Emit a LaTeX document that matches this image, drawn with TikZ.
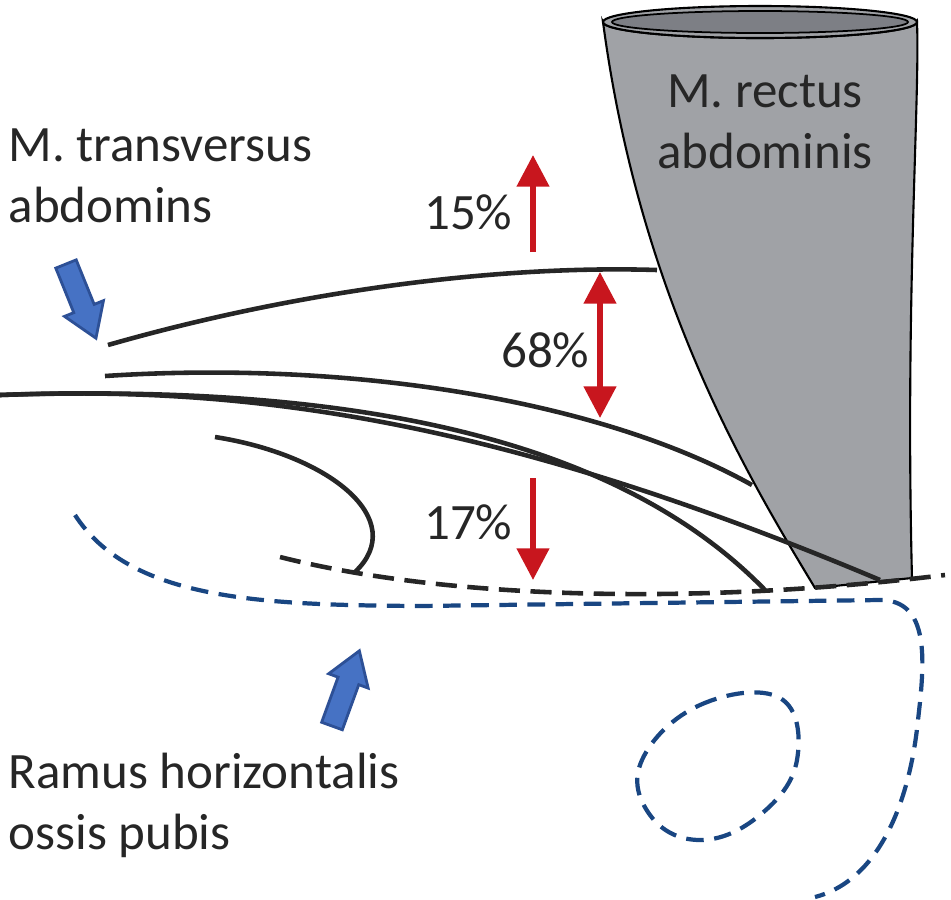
\documentclass[tikz,border=0pt]{standalone}
\usepackage{fontspec}
\setmainfont{Carlito}
\usetikzlibrary{arrows.meta}
\definecolor{rectgray}{RGB}{160,162,166}
\definecolor{rectdark}{RGB}{125,127,133}
\definecolor{pctred}{RGB}{200,22,30}
\definecolor{blockblue}{RGB}{70,114,196}
\definecolor{blockedge}{RGB}{45,80,150}
\definecolor{bonedash}{RGB}{25,70,130}
\tikzset{
  lbl/.style={align=left, font=\fontsize{14.5}{17.5}\selectfont, text=black!85, inner sep=0pt},
  pct/.style={font=\fontsize{14.5}{17}\selectfont, text=black!85, inner sep=0pt},
  fibre/.style={line width=1.3pt, black!85},
  redarrow/.style={line width=1.6pt, pctred, -{Triangle[length=9pt,width=9pt]}},
  bluearrow/.style={draw=blockedge, fill=blockblue, line width=0.8pt, line join=miter},
  bonelin/.style={dashed, dash pattern=on 5pt off 3pt, line width=1.2pt, bonedash}
}
% block arrow pointing along +x, tail at origin
\newcommand{\blockarrow}{(0,-11) -- (48,-11) -- (48,-21) -- (80,0) -- (48,21) -- (48,11) -- (0,11) -- cycle}
\begin{document}
\begin{tikzpicture}[x=0.01cm,y=-0.01cm]
\useasboundingbox (0,0) rectangle (951,899);
% M. rectus abdominis
\draw[fill=rectgray, line width=0.6pt] (603,22) .. controls (640,300) and (750,480) .. (815,588)
  -- (912,578) .. controls (905,300) and (920,100) .. (917,22) arc[start angle=0,end angle=180,x radius=157,y radius=16] -- cycle;
\draw[fill=rectgray, line width=0.6pt] (760,22) ellipse[x radius=157,y radius=16];
\draw[fill=rectdark, line width=0.5pt] (760,22) ellipse[x radius=148,y radius=11];
\node[lbl, align=center] (rectus) at (765,122) {M. rectus\\abdominis};
% fibres
\draw[fibre] (108,345) .. controls (300,290) and (500,265) .. (657,270);
\draw[fibre] (105,376) .. controls (350,360) and (600,400) .. (752,485);
\draw[fibre] (0,395) .. controls (250,385) and (500,420) .. (880,580);
\draw[fibre] (0,395) .. controls (300,385) and (600,420) .. (765,590);
\draw[fibre] (215,437) .. controls (330,455) and (410,520) .. (355,572);
\draw[fibre, dashed, dash pattern=on 6pt off 3pt] (280,557) .. controls (450,600) and (700,605) .. (945,575);
% ramus
\draw[bonelin] (75,515) .. controls (130,600) and (260,605) .. (420,606) -- (880,600)
  .. controls (930,600) and (925,660) .. (918,720) .. controls (910,800) and (880,880) .. (815,897);
\draw[bonelin] plot[smooth cycle, tension=0.7] coordinates {(642,760) (700,705) (780,698) (797,760) (760,815) (700,840) (650,815)};
% labels
\node[lbl, anchor=north west] (transv) at (8,128) {M. transversus\\abdomins};
\node[lbl, anchor=north west] (ramus) at (8,752) {Ramus horizontalis\\ossis pubis};
\draw[bluearrow, shift={(66,264)}, rotate=-68] \blockarrow;
\draw[bluearrow, shift={(332,726)}, rotate=70] \blockarrow;
% percentages
\coordinate (p15a) at (533,252); \coordinate (p15b) at (533,155);
\draw[redarrow] (p15a) -- (p15b);
\node[pct, anchor=east] (p15) at (513,212) {15\%};
\coordinate (p68a) at (600,272); \coordinate (p68b) at (600,418);
\draw[redarrow, {Triangle[length=9pt,width=9pt]}-{Triangle[length=9pt,width=9pt]}] (p68a) -- (p68b);
\node[pct, anchor=east] (p68) at (590,350) {68\%};
\coordinate (p17a) at (533,478); \coordinate (p17b) at (533,580);
\draw[redarrow] (p17a) -- (p17b);
\node[pct, anchor=east] (p17) at (513,522) {17\%};
\end{tikzpicture}
\end{document}
